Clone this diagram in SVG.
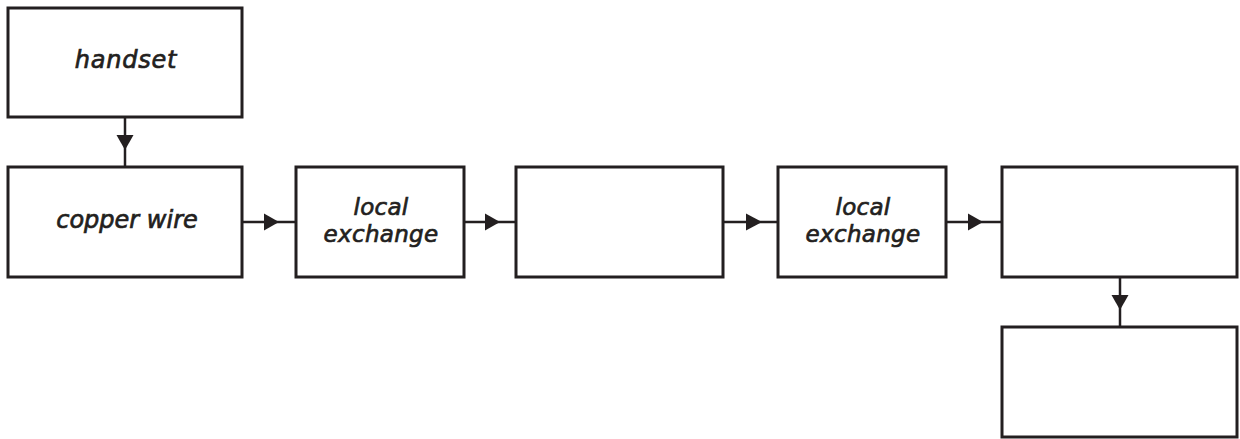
<svg xmlns="http://www.w3.org/2000/svg" width="1240" height="439" viewBox="0 0 1240 439">
  <style>
    .box { fill: #ffffff; stroke: #231f20; stroke-width: 3; }
    .wire { fill: none; stroke: #231f20; stroke-width: 2.5; }
    .head { fill: #231f20; stroke: none; }
    .label { font-family: "DejaVu Sans", "Liberation Sans", sans-serif; font-style: italic; font-size: 24px; fill: #231f20; stroke: #231f20; stroke-width: 0.7; text-anchor: middle; }
    .two-line { font-size: 23px; letter-spacing: 0.3px; }
  </style>
  <rect width="1240" height="439" fill="#ffffff"/>

  <!-- connectors: line plus a filled arrowhead placed mid-span -->
  <g id="connectors">
    <line class="wire" x1="125" y1="117" x2="125" y2="167"/>
    <polygon class="head" points="116.5,135 133.5,135 125,150"/>

    <line class="wire" x1="243" y1="222" x2="296" y2="222"/>
    <polygon class="head" points="264,213.5 264,230.5 279,222"/>

    <line class="wire" x1="464" y1="222" x2="516" y2="222"/>
    <polygon class="head" points="485,213.5 485,230.5 500,222"/>

    <line class="wire" x1="723" y1="222" x2="778" y2="222"/>
    <polygon class="head" points="746,213.5 746,230.5 762,222"/>

    <line class="wire" x1="946" y1="222" x2="1002" y2="222"/>
    <polygon class="head" points="968,213.5 968,230.5 983,222"/>

    <line class="wire" x1="1120" y1="277" x2="1120" y2="327"/>
    <polygon class="head" points="1111.5,295 1128.5,295 1120,310"/>
  </g>

  <g id="handset">
    <rect class="box" x="8" y="8" width="234" height="109"/>
    <text class="label" x="126" y="68" letter-spacing="0.8">handset</text>
  </g>

  <g id="copper-wire">
    <rect class="box" x="8" y="167" width="234" height="110"/>
    <text class="label" x="127" y="228">copper wire</text>
  </g>

  <g id="local-exchange-1">
    <rect class="box" x="296" y="167" width="168" height="110"/>
    <text class="label two-line" x="381" y="215">local</text>
    <text class="label two-line" x="381" y="242">exchange</text>
  </g>

  <g id="blank-1">
    <rect class="box" x="516" y="167" width="207" height="110"/>
  </g>

  <g id="local-exchange-2">
    <rect class="box" x="778" y="167" width="168" height="110"/>
    <text class="label two-line" x="863" y="215">local</text>
    <text class="label two-line" x="863" y="242">exchange</text>
  </g>

  <g id="blank-2">
    <rect class="box" x="1002" y="167" width="235" height="110"/>
  </g>

  <g id="blank-3">
    <rect class="box" x="1002" y="327" width="235" height="110"/>
  </g>
</svg>
